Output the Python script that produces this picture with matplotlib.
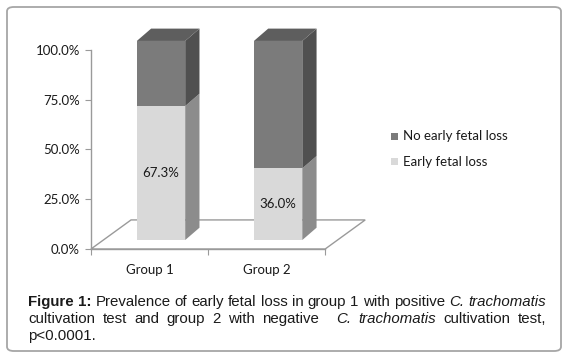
import matplotlib.pyplot as plt
from matplotlib.patches import Polygon, FancyBboxPatch

# data
groups = ["Group 1", "Group 2"]
early_loss = [67.3, 36.0]
no_early_loss = [32.7, 64.0]
series_names = ["No early fetal loss", "Early fetal loss"]
y_ticks = [0, 25, 50, 75, 100]

CHART_FONT = ["Lato", "DejaVu Sans"]
CAP_FONT = ["Liberation Sans", "DejaVu Sans"]

# colours: (front, side, top)
LIGHT = ("#d9d9d9", "#8c8c8c", "#bdbdbd")
DARK = ("#7b7b7b", "#505050", "#5e5e5e")

fig = plt.figure(figsize=(5.67, 3.57), dpi=100)

# outer rounded frame
frame = FancyBboxPatch((7 / 567, 6 / 357), 554 / 567, 344 / 357,
                       boxstyle="round,pad=0,rounding_size=0.012",
                       transform=fig.transFigure, facecolor="white",
                       edgecolor="#a6a6a6", linewidth=1.3, zorder=-1)
fig.patches.append(frame)

ax = fig.add_axes([91 / 567, 108 / 357, 281 / 567, 219 / 357])
ax.set_zorder(2)
ax.set_xlim(0, 2.4)
ax.set_ylim(0, 110)
ax.patch.set_alpha(0)

# floor depth (data units) and bar placement
fdx, fdy = 0.342, 14.6
bdx, bdy = 0.098, 4.5      # bar front offset into depth
sdx, sdy = 0.122, 6.2      # bar own depth
bw = 0.413

floor = Polygon([(0, 0), (2, 0), (2 + fdx, fdy), (fdx, fdy)], closed=True,
                facecolor="white", edgecolor="#9a9a9a", linewidth=1.0,
                clip_on=False, zorder=1)
ax.add_patch(floor)


def draw_box(xc, bottom, height, cols, top_face):
    x0 = xc - bw / 2 + bdx
    x1 = xc + bw / 2 + bdx
    y0 = bottom + bdy
    y1 = bottom + height + bdy
    ax.bar(x0, height, width=bw, bottom=y0, align="edge",
           color=cols[0], edgecolor="none", zorder=3, clip_on=False)
    side = Polygon([(x1, y0), (x1 + sdx, y0 + sdy), (x1 + sdx, y1 + sdy), (x1, y1)],
                   closed=True, facecolor=cols[1], edgecolor="none",
                   zorder=2, clip_on=False)
    ax.add_patch(side)
    if top_face:
        top = Polygon([(x0, y1), (x0 + sdx, y1 + sdy), (x1 + sdx, y1 + sdy), (x1, y1)],
                      closed=True, facecolor=cols[2], edgecolor="none",
                      zorder=2, clip_on=False)
        ax.add_patch(top)


for i, g in enumerate(groups):
    xc = i + 0.5
    draw_box(xc, 0, early_loss[i], LIGHT, False)
    draw_box(xc, early_loss[i], no_early_loss[i], DARK, True)
    ax.text(xc + bdx, early_loss[i] / 2 + bdy, f"{early_loss[i]:.1f}%",
            ha="center", va="center", fontsize=9.5, family=CHART_FONT,
            color="#1a1a1a", zorder=5)

# axes styling
for s in ["top", "right"]:
    ax.spines[s].set_visible(False)
ax.spines["left"].set_bounds(0, 100)
ax.spines["bottom"].set_bounds(0, 2)
for s in ["left", "bottom"]:
    ax.spines[s].set_color("#9a9a9a")
    ax.spines[s].set_linewidth(1.0)
    ax.spines[s].set_zorder(1.5)

ax.set_yticks(y_ticks)
ax.set_yticklabels([f"{v:.1f}%" for v in y_ticks], family=CHART_FONT,
                   fontsize=9.5, color="#1a1a1a")
ax.set_xticks([0, 1, 2])
ax.set_xticklabels([])
ax.set_xticks([0.5, 1.5], minor=True)
ax.set_xticklabels(groups, minor=True, family=CHART_FONT, fontsize=9.5,
                   color="#1a1a1a")
ax.tick_params(axis="y", length=4, color="#9a9a9a", pad=4)
ax.tick_params(axis="x", which="major", length=4, color="#9a9a9a")
ax.tick_params(axis="x", which="minor", length=0, pad=11)

# legend
leg_items = [(series_names[0], DARK[0], 136.5), (series_names[1], LIGHT[0], 162)]
for name, col, ypx in leg_items:
    yf = 1 - ypx / 357
    fig.patches.append(plt.Rectangle((391 / 567, yf - 3.5 / 357), 7 / 567, 7 / 357,
                                     transform=fig.transFigure, facecolor=col,
                                     edgecolor="none"))
    fig.text(403 / 567, yf, name, ha="left", va="center", family=CHART_FONT,
             fontsize=9.5, color="#1a1a1a")

# caption
cap_kw = dict(family=CAP_FONT, fontsize=10.8, color="#1a1a1a", va="baseline")
r = fig.canvas.get_renderer()
X0, X1 = 28 / 567, 546 / 567


def write_line(words, ypx, justify=False):
    # words: list of (text, weight, style, gap weight before the word)
    y = 1 - ypx / 357
    arts = [fig.text(X0, y, w, fontweight=wt, fontstyle=st, **cap_kw)
            for w, wt, st, _ in words]
    widths = [a.get_window_extent(renderer=r).width / fig.bbox.width for a in arts]
    gw = [g for *_, g in words[1:]]
    gap = 3.2 / 567
    if justify and len(arts) > 1:
        gap = (X1 - X0 - sum(widths)) / sum(gw)
    x = X0
    for k, (a, w) in enumerate(zip(arts, widths)):
        a.set_x(x)
        if k < len(gw):
            x += w + gap * gw[k]


def words(text, wt="normal", st="normal"):
    return [(w, wt, st, 1) for w in text.split()]


line1 = words("Figure 1:", "bold") + \
    words("Prevalence of early fetal loss in group 1 with positive") + \
    words("C. trachomatis", st="italic")
line2 = words("cultivation test and group 2 with negative") + \
    [("C.", "normal", "italic", 2.2), ("trachomatis", "normal", "italic", 1)] + \
    words("cultivation test,")
write_line(line1, 306, justify=True)
write_line(line2, 323, justify=True)
write_line(words("p<0.0001."), 340)

fig.savefig("out.png", dpi=100)
